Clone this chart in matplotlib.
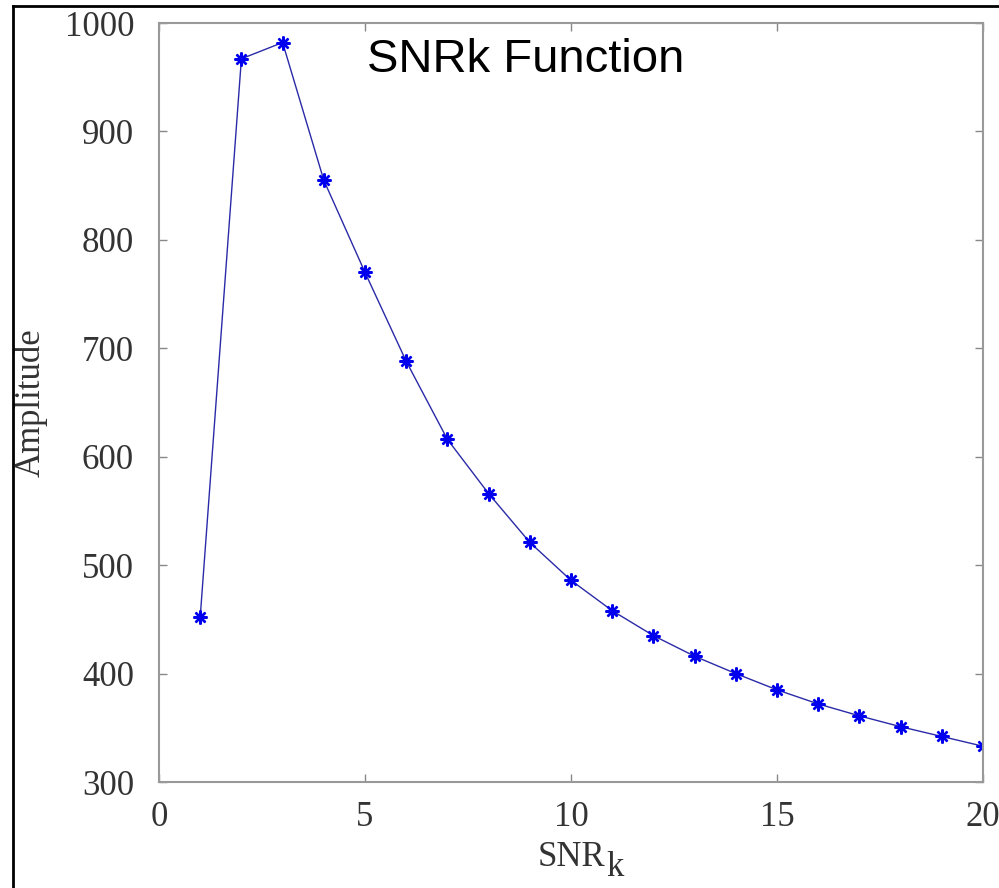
import matplotlib
matplotlib.use("Agg")
import matplotlib.pyplot as plt
from matplotlib.lines import Line2D

# SNRk values
snr_k = [1, 2, 3, 4, 5, 6, 7, 8, 9, 10, 11, 12, 13, 14, 15, 16, 17, 18, 19, 20]
amplitude = [452, 967, 982, 855, 770, 688, 616, 566, 521, 486,
             458, 435, 416, 400, 385, 372, 361, 351, 342, 333]
x_ticks = [0, 5, 10, 15, 20]
y_ticks = [300, 400, 500, 600, 700, 800, 900, 1000]

plt.rcParams['font.family'] = ['Liberation Serif', 'DejaVu Serif']

fig = plt.figure(figsize=(9.99, 8.88), dpi=100)
ax = fig.add_axes([159 / 999, 1 - 782 / 888, (983 - 159) / 999, (782 - 23) / 888])

ax.plot(snr_k, amplitude, color='#2a2aa8', lw=1.0,
        marker=(8, 2, 0), markersize=10, markeredgewidth=1.7,
        markeredgecolor='#0000ee', markerfacecolor='#0000ee')

ax.set_xlim(0, 20)
ax.set_ylim(300, 1000)
ax.set_xticks(x_ticks)
ax.set_yticks(y_ticks)

for s in ax.spines.values():
    s.set_color('#999999')
    s.set_linewidth(1.5)
ax.tick_params(direction='in', length=6, width=1, color='#888888',
               top=True, right=True, labelsize=25, labelcolor='#333333')
ax.tick_params(axis='y', pad=18)
ax.tick_params(axis='x', pad=14)

ax.set_ylabel('Amplitude', fontsize=25, color='#333333', labelpad=12)
# SNR with a full-size, lowered "k" as in the original
ax.set_xlabel('SNR', fontsize=25, color='#333333', labelpad=5)
ax.annotate('k', xy=(1, 0), xycoords=ax.xaxis.label, xytext=(1, 17),
            textcoords='offset points', ha='left', va='top',
            fontsize=25, color='#333333')

ax.text(0.445, 0.951, 'SNRk Function', transform=ax.transAxes,
        ha='center', va='center', fontsize=34, family='Liberation Sans',
        color='black')

# outer frame (left and top edges visible)
fig.add_artist(Line2D([13 / 999, 13 / 999], [0, 1 - 6 / 888],
                      transform=fig.transFigure, color='black', lw=2))
fig.add_artist(Line2D([13 / 999, 1], [1 - 6 / 888, 1 - 6 / 888],
                      transform=fig.transFigure, color='black', lw=2))

plt.savefig('out.png', dpi=100)
